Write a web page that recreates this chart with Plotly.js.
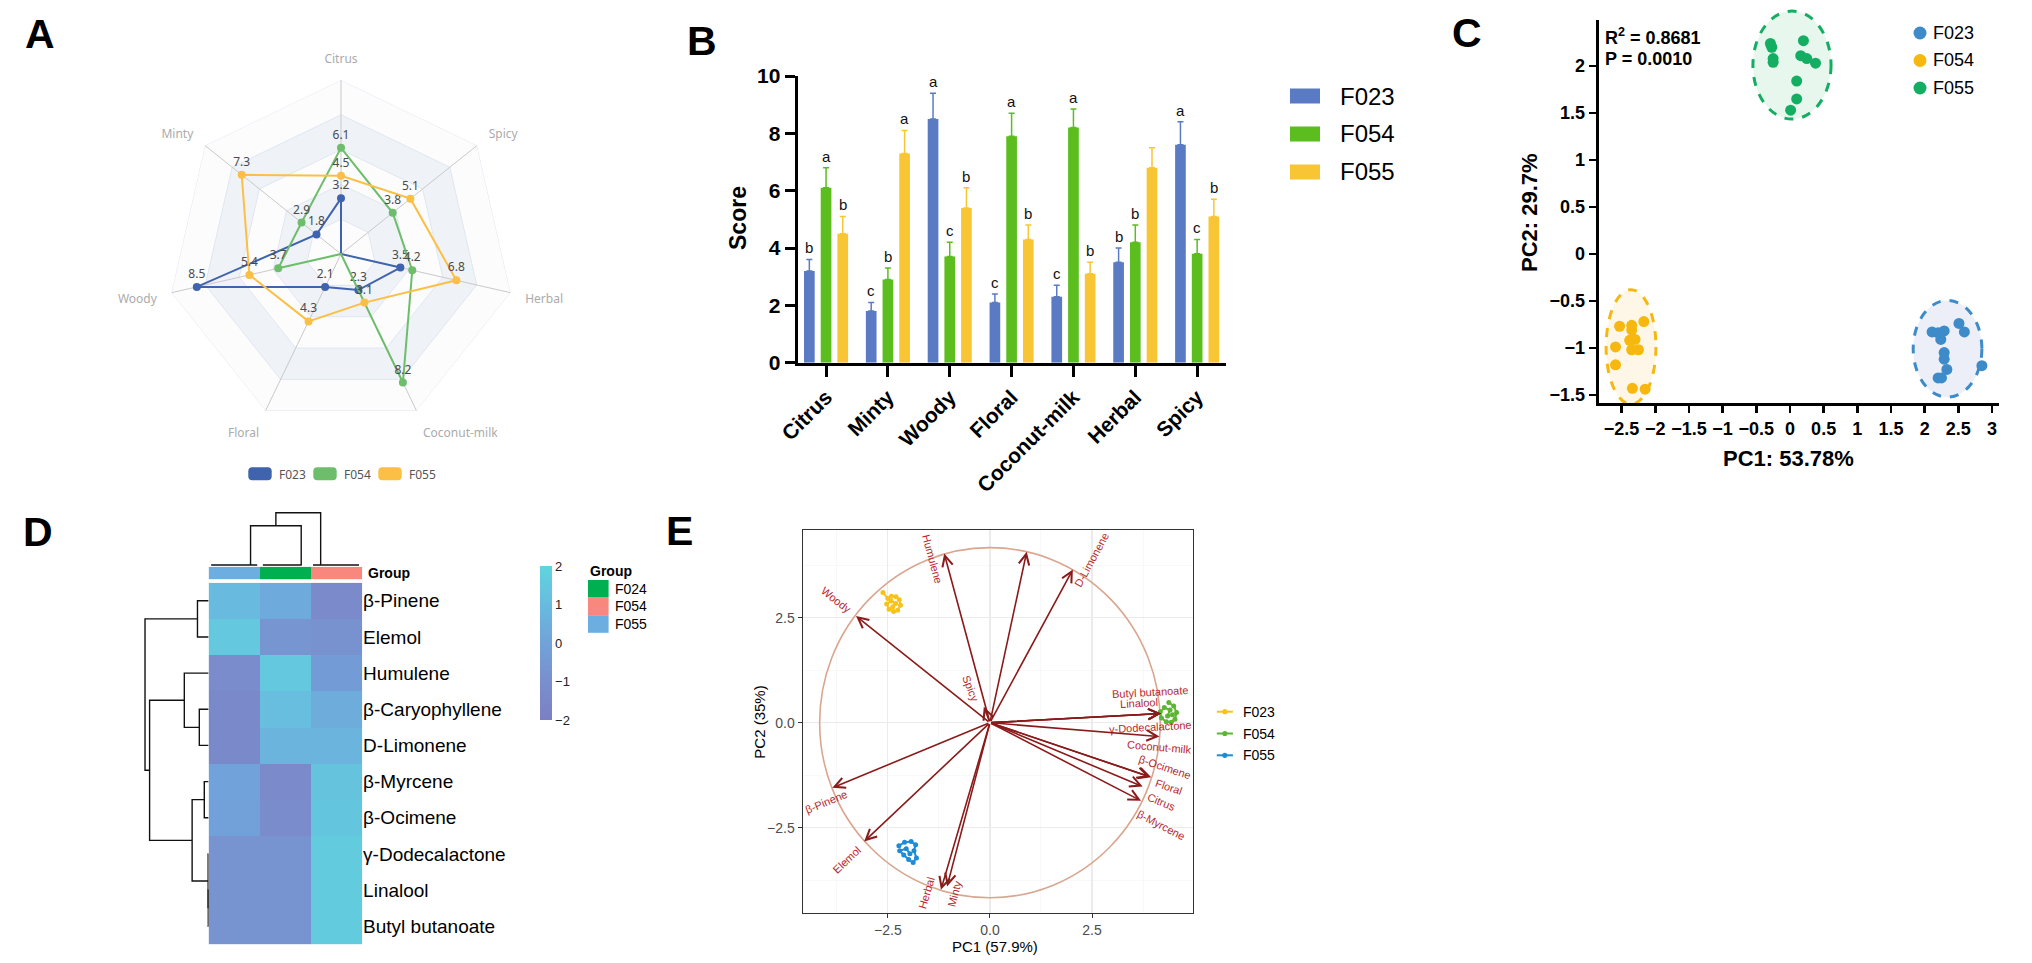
<!DOCTYPE html>
<html>
<head>
<meta charset="utf-8">
<script src="https://cdn.plot.ly/plotly-3.0.1.min.js"></script>
<style>
html,body{margin:0;padding:0;background:#ffffff;overflow:hidden;}
#chart{width:2032px;height:963px;}
</style>
</head>
<body>
<div id="chart"></div>
<script>
/* ================= DATA ================= */
const attributes = ['Citrus', 'Minty', 'Woody', 'Floral', 'Coconut-milk', 'Herbal', 'Spicy'];
const samples = ['F023', 'F054', 'F055'];

// Panel A – radar
const radarF023 = [3.2, 1.8, 8.5, 2.1, 2.3, 3.5, 0];
const radarF054 = [6.1, 2.9, 3.7, 0, 8.2, 4.2, 3.8];
const radarF055 = [4.5, 7.3, 5.4, 4.3, 3.1, 6.8, 5.1];
const radarRings = [2, 4, 6, 8, 10];

// Panel B – bars
const scoreF023 = [3.2, 1.8, 8.5, 2.1, 2.3, 3.5, 7.6];
const scoreF054 = [6.1, 2.9, 3.7, 7.9, 8.2, 4.2, 3.8];
const scoreF055 = [4.5, 7.3, 5.4, 4.3, 3.1, 6.8, 5.1];
const sdF023 = [0.4, 0.3, 0.9, 0.3, 0.4, 0.5, 0.8];
const sdF054 = [0.7, 0.4, 0.5, 0.8, 0.65, 0.6, 0.5];
const sdF055 = [0.6, 0.8, 0.7, 0.5, 0.4, 0.7, 0.6];
const letterF023 = ['b', 'c', 'a', 'c', 'c', 'b', 'a'];
const letterF054 = ['a', 'b', 'c', 'a', 'a', 'b', 'c'];
const letterF055 = ['b', 'a', 'b', 'b', 'b', '', 'b'];
const scoreTicks = [0, 2, 4, 6, 8, 10];

// Panel C – PCA scores
const pcF023_x = [2.11, 2.20, 2.29, 2.24, 2.51, 2.59, 2.29, 2.29, 2.33, 2.20, 2.25, 2.85];
const pcF023_y = [-0.83, -0.84, -0.82, -0.91, -0.74, -0.83, -1.05, -1.12, -1.23, -1.32, -1.32, -1.19];
const pcF054_x = [-2.53, -2.35, -2.35, -2.17, -2.59, -2.38, -2.30, -2.35, -2.25, -2.59, -2.34, -2.15];
const pcF054_y = [-0.77, -0.76, -0.81, -0.72, -0.99, -0.92, -0.91, -1.02, -1.02, -1.18, -1.43, -1.44];
const pcF055_x = [-0.29, -0.27, -0.25, -0.25, 0.20, 0.16, 0.25, 0.38, 0.10, 0.10, 0.01];
const pcF055_y = [2.24, 2.20, 2.08, 2.04, 2.27, 2.11, 2.08, 2.03, 1.84, 1.65, 1.53];
const ellipseCx = [2.34, -2.36, 0.03];
const ellipseCy = [-1.01, -0.99, 2.01];
const ellipseRx = [0.51, 0.37, 0.58];
const ellipseRy = [0.515, 0.61, 0.575];
const pcaStats = ['R<sup>2</sup> = 0.8681', 'P = 0.0010'];

// Panel D – heatmap
const compounds = ['β-Pinene', 'Elemol', 'Humulene', 'β-Caryophyllene', 'D-Limonene', 'β-Myrcene', 'β-Ocimene', 'γ-Dodecalactone', 'Linalool', 'Butyl butanoate'];
const heatGroups = ['F055', 'F024', 'F054'];
const heatZ = [
  [1.0, 0.3, -1.3],
  [1.5, -0.7, -0.9],
  [-1.2, 1.5, -0.3],
  [-1.4, 1.1, 0.4],
  [-1.4, 0.7, 0.7],
  [0.0, -1.3, 1.3],
  [-0.1, -1.2, 1.4],
  [-0.8, -0.8, 1.6],
  [-0.8, -0.8, 1.6],
  [-0.8, -0.8, 1.6]
];
const heatTicks = [-2, -1, 0, 1, 2];
const legendGroups = ['F024', 'F054', 'F055'];
// row dendrogram merges [childA, childB, height]; leaves 0..9, new clusters 10..
const rowMerges = [[8, 9, 0.05], [7, 10, 0.07], [5, 6, 0.68], [3, 4, 1.46], [0, 1, 1.75], [12, 11, 2.59], [2, 13, 3.82], [16, 15, 9.28], [14, 17, 10]];
// column dendrogram: group sub-tree nodes, spans, merges
const colNode = [0.32, 1.31, 1.69];
const colSpanL = [-0.45, 0.56, 1.54];
const colSpanR = [0.45, 1.32, 2.44];
const colMerges = [[0, 1, 7.5], [3, 2, 10]];

// Panel E – biplot
const bpF023_x = [-2.62, -2.50, -2.41, -2.30, -2.22, -2.19, -2.26, -2.36, -2.47, -2.53, -2.42, -2.31, -2.38];
const bpF023_y = [3.10, 2.96, 3.01, 3.00, 2.93, 2.80, 2.68, 2.65, 2.70, 2.83, 2.90, 2.84, 2.76];
const bpF054_x = [4.38, 4.50, 4.57, 4.53, 4.44, 4.32, 4.20, 4.17, 4.27, 4.41, 4.35, 4.47];
const bpF054_y = [0.48, 0.40, 0.24, 0.08, 0.01, 0.02, 0.11, 0.26, 0.36, 0.30, 0.16, 0.19];
const bpF055_x = [-2.23, -2.09, -1.93, -1.82, -1.86, -1.80, -1.88, -1.99, -2.11, -2.21, -2.05, -1.96];
const bpF055_y = [-2.93, -2.85, -2.83, -2.91, -3.05, -3.22, -3.33, -3.26, -3.15, -3.05, -3.00, -3.12];
const loadNames = ['Humulene', 'β-Caryophyllene', 'D-Limonene', 'Woody', 'Spicy', 'β-Pinene', 'Elemol', 'Herbal', 'Minty', 'Butyl butanoate', 'Linalool', 'γ-Dodecalactone', 'Coconut-milk', 'β-Ocimene', 'Floral', 'Citrus', 'β-Myrcene'];
const loadPC1 = [-1.12, 0.90, 2.03, -3.28, -0.15, -3.86, -3.08, -1.20, -1.05, 4.19, 4.19, 4.19, 4.15, 3.95, 3.92, 3.74, 3.70];
const loadPC2 = [4.03, 4.07, 3.65, 2.54, 0.38, -1.55, -2.83, -3.98, -3.90, 0.22, 0.22, 0.22, -0.33, -1.30, -1.29, -1.52, -1.86];
const corrCircleR = 4.17;

/* ================= STYLE / GEOMETRY ================= */
const W = 2032, H = 963;
const px = x => x / W;
const py = y => 1 - y / H;
const SANS = 'Liberation Sans, Arial, sans-serif';
const ECH = 'Noto Sans, sans-serif';

const radarColors = ['#3f63ad', '#6dbd6b', '#fcbf45'];
const barColors = ['#5a7bc4', '#5bbd1e', '#f8c635'];
const pcaColors = ['#3d8bc9', '#f6b80f', '#14ae63'];
const ellFill = ['rgba(214,220,240,0.45)', 'rgba(253,236,196,0.4)', 'rgba(196,234,212,0.4)'];
const heatGroupColors = {F055: '#6caee0', F024: '#00b050', F054: '#f8877d'};
const bpColors = ['#f7c31b', '#5db534', '#1d8bd6'];

const traces = [];
const shapes = [];
const annotations = [];

/* ---------- A: radar ---------- */
const closeArr = a => a.concat([a[0]]);
const thetaC = closeArr(attributes);
[...radarRings].reverse().forEach((r, i) => {
  traces.push({type: 'scatterpolar', subplot: 'polar', r: closeArr(attributes.map(() => r)), theta: thetaC,
    mode: 'lines', fill: 'toself', fillcolor: i % 2 === 0 ? '#fcfcfd' : '#eff2f7',
    line: {color: 'rgba(0,0,0,0)', width: 0}, hoverinfo: 'skip', showlegend: false});
});
radarRings.forEach(r => {
  traces.push({type: 'scatterpolar', subplot: 'polar', r: closeArr(attributes.map(() => r)), theta: thetaC,
    mode: 'lines', line: {color: '#e0e6f1', width: 1}, hoverinfo: 'skip', showlegend: false});
});
attributes.forEach(a => {
  traces.push({type: 'scatterpolar', subplot: 'polar', r: [0, radarRings[radarRings.length - 1]], theta: [a, a],
    mode: 'lines', line: {color: '#c9c9c9', width: 1}, hoverinfo: 'skip', showlegend: false});
});
[radarF023, radarF054, radarF055].forEach((vals, i) => {
  traces.push({type: 'scatterpolar', subplot: 'polar', r: closeArr(vals), theta: thetaC,
    mode: 'lines', line: {color: radarColors[i], width: 2}, hoverinfo: 'skip', showlegend: false});
  traces.push({type: 'scatterpolar', subplot: 'polar', r: vals, theta: attributes,
    mode: 'markers+text', text: vals.map(v => String(v)),
    textposition: 'top center', textfont: {family: ECH, size: 12, color: '#4a4a4a'},
    marker: {color: radarColors[i], size: 8},
    cliponaxis: false, name: samples[i], showlegend: false, hoverinfo: 'skip'});
});
// radar legend
function rrPath(x0, y0, x1, y1, r) {
  const P = (x, y) => px(x) + ',' + py(y);
  return 'M' + P(x0 + r, y0) + ' L' + P(x1 - r, y0) + ' Q' + P(x1, y0) + ' ' + P(x1, y0 + r) +
    ' L' + P(x1, y1 - r) + ' Q' + P(x1, y1) + ' ' + P(x1 - r, y1) + ' L' + P(x0 + r, y1) +
    ' Q' + P(x0, y1) + ' ' + P(x0, y1 - r) + ' L' + P(x0, y0 + r) + ' Q' + P(x0, y0) + ' ' + P(x0 + r, y0) + ' Z';
}
samples.forEach((s, i) => {
  const x0 = 248.3 + i * 65;
  shapes.push({type: 'path', xref: 'paper', yref: 'paper', path: rrPath(x0, 467.3, x0 + 23.4, 480.3, 4),
    fillcolor: radarColors[i], line: {width: 0}});
  annotations.push({xref: 'paper', yref: 'paper', x: px(x0 + 28.5), y: py(474), xanchor: 'left', yanchor: 'middle',
    text: s, showarrow: false, font: {family: ECH, size: 12, color: '#555'}});
});

/* ---------- B: bars ---------- */
const bargap = 0.19, bargroupgap = 0.36;
const scores = [scoreF023, scoreF054, scoreF055];
const sds = [sdF023, sdF054, sdF055];
const letters = [letterF023, letterF054, letterF055];
samples.forEach((s, i) => {
  traces.push({type: 'bar', x: attributes, y: scores[i], name: s, xaxis: 'x', yaxis: 'y',
    marker: {color: barColors[i], line: {width: 0}},
    error_y: {type: 'data', symmetric: false, array: sds[i], arrayminus: sds[i].map(() => 0),
      color: barColors[i], thickness: 1.5, width: 3},
    showlegend: false, hoverinfo: 'skip'});
});
const slot = (1 - bargap) / samples.length;
samples.forEach((s, i) => {
  attributes.forEach((a, j) => {
    if (!letters[i][j]) return;
    annotations.push({xref: 'x', yref: 'y', x: j + (i - 1) * slot, y: scores[i][j] + sds[i][j],
      text: letters[i][j], showarrow: false, yanchor: 'bottom', yshift: 1,
      font: {family: SANS, size: 15, color: '#111'}});
  });
});
annotations.push({xref: 'paper', yref: 'paper', x: px(738), y: py(218), text: '<b>Score</b>', textangle: -90,
  showarrow: false, xanchor: 'center', yanchor: 'middle', font: {family: SANS, size: 23, color: '#000'}});
samples.forEach((s, i) => {
  const yc = 96 + i * 38;
  shapes.push({type: 'rect', xref: 'paper', yref: 'paper', x0: px(1290), x1: px(1320), y0: py(yc + 7.5), y1: py(yc - 7.5),
    fillcolor: barColors[i], line: {width: 0}});
  annotations.push({xref: 'paper', yref: 'paper', x: px(1338), y: py(yc), xanchor: 'left', yanchor: 'middle',
    text: s, showarrow: false, font: {family: SANS, size: 24, color: '#000'}});
});

/* ---------- C: PCA scores ---------- */
const cXr = [-2.84, 3.11], cYr = [-1.59, 2.49];
const fx = v => (v - cXr[0]) / (cXr[1] - cXr[0]);
const fy = v => (v - cYr[0]) / (cYr[1] - cYr[0]);
samples.forEach((s, i) => {
  shapes.push({type: 'circle', xref: 'x2 domain', yref: 'y2 domain',
    x0: fx(ellipseCx[i] - ellipseRx[i]), x1: fx(ellipseCx[i] + ellipseRx[i]),
    y0: fy(ellipseCy[i] - ellipseRy[i]), y1: fy(ellipseCy[i] + ellipseRy[i]),
    fillcolor: ellFill[i], line: {color: pcaColors[i], width: 3, dash: 'dash'}, layer: 'below'});
});
[[pcF023_x, pcF023_y], [pcF054_x, pcF054_y], [pcF055_x, pcF055_y]].forEach((d, i) => {
  traces.push({type: 'scatter', mode: 'markers', x: d[0], y: d[1], xaxis: 'x2', yaxis: 'y2', name: samples[i],
    marker: {color: pcaColors[i], size: 11}, cliponaxis: false, showlegend: false, hoverinfo: 'skip'});
});
pcaStats.forEach((t, i) => {
  annotations.push({xref: 'paper', yref: 'paper', x: px(1603), y: py(36 + i * 23), xanchor: 'left', yanchor: 'middle',
    text: '<b>' + t + '</b>', showarrow: false, font: {family: SANS, size: 18, color: '#000'}});
});
samples.forEach((s, i) => {
  const yc = 33 + i * 27.5, r = 6.5;
  shapes.push({type: 'circle', xref: 'paper', yref: 'paper', x0: px(1920 - r), x1: px(1920 + r), y0: py(yc + r), y1: py(yc - r),
    fillcolor: pcaColors[i], line: {width: 0}});
  annotations.push({xref: 'paper', yref: 'paper', x: px(1931), y: py(yc), xanchor: 'left', yanchor: 'middle',
    text: s, showarrow: false, font: {family: SANS, size: 18, color: '#000'}});
});
annotations.push({xref: 'paper', yref: 'paper', x: px(1529), y: py(213), text: '<b>PC2: 29.7%</b>', textangle: -90,
  showarrow: false, xanchor: 'center', yanchor: 'middle', font: {family: SANS, size: 22, color: '#000'}});
annotations.push({xref: 'paper', yref: 'paper', x: px(1788), y: py(458), text: '<b>PC1: 53.78%</b>',
  showarrow: false, xanchor: 'center', yanchor: 'middle', font: {family: SANS, size: 22, color: '#000'}});

/* ---------- D: heatmap ---------- */
traces.push({type: 'heatmap', z: heatZ, x: heatGroups.map((g, i) => i), y: compounds.map((c, i) => i),
  xaxis: 'x3', yaxis: 'y3', zmin: -2, zmax: 2,
  colorscale: [[0, '#7c7fc3'], [0.25, '#798fce'], [0.5, '#71a2d9'], [0.75, '#68bbdf'], [1, '#5fd5dd']],
  colorbar: {x: px(539.6), xanchor: 'left', y: py(643), yanchor: 'middle', len: 154, lenmode: 'pixels',
    thickness: 11.5, thicknessmode: 'pixels', xpad: 0, ypad: 0, outlinewidth: 0, tickvals: heatTicks,
    ticks: '', tickfont: {family: SANS, size: 13, color: '#222'}},
  hoverinfo: 'skip'});
traces.push({type: 'heatmap', z: [heatGroups.map((g, i) => i)], x: heatGroups.map((g, i) => i), y: [0],
  xaxis: 'x3', yaxis: 'y5', zmin: 0, zmax: 2, showscale: false,
  colorscale: [[0, heatGroupColors[heatGroups[0]]], [0.5, heatGroupColors[heatGroups[1]]], [1, heatGroupColors[heatGroups[2]]]],
  hoverinfo: 'skip'});
// row dendrogram
(function () {
  const pos = compounds.map((c, i) => i);
  const hgt = compounds.map(() => 0);
  const xs = [], ys = [];
  rowMerges.forEach(m => {
    const a = m[0], b = m[1], h = m[2];
    xs.push(hgt[a], h, h, hgt[b], null);
    ys.push(pos[a], pos[a], pos[b], pos[b], null);
    pos.push((pos[a] + pos[b]) / 2);
    hgt.push(h);
  });
  traces.push({type: 'scatter', mode: 'lines', x: xs, y: ys, xaxis: 'x4', yaxis: 'y3',
    line: {color: '#111', width: 1.4}, hoverinfo: 'skip', showlegend: false});
})();
// column dendrogram
(function () {
  const pos = colNode.slice();
  const hgt = colNode.map(() => 0);
  const xs = [], ys = [];
  colNode.forEach((n, i) => { xs.push(colSpanL[i], colSpanR[i], null); ys.push(0, 0, null); });
  colMerges.forEach(m => {
    const a = m[0], b = m[1], h = m[2];
    xs.push(pos[a], pos[a], pos[b], pos[b], null);
    ys.push(hgt[a], h, h, hgt[b], null);
    pos.push((pos[a] + pos[b]) / 2);
    hgt.push(h);
  });
  traces.push({type: 'scatter', mode: 'lines', x: xs, y: ys, xaxis: 'x3', yaxis: 'y4',
    line: {color: '#111', width: 1.4}, hoverinfo: 'skip', showlegend: false});
})();
annotations.push({xref: 'paper', yref: 'paper', x: px(366), y: py(573.3), xanchor: 'left', yanchor: 'middle',
  text: '<b>Group</b>', showarrow: false, font: {family: SANS, size: 14, color: '#000'}});
annotations.push({xref: 'paper', yref: 'paper', x: px(587.5), y: py(571), xanchor: 'left', yanchor: 'middle',
  text: '<b>Group</b>', showarrow: false, font: {family: SANS, size: 14, color: '#000'}});
legendGroups.forEach((g, i) => {
  const y0 = 580 + i * 17.6;
  shapes.push({type: 'rect', xref: 'paper', yref: 'paper', x0: px(588), x1: px(608.6), y0: py(y0 + 17.6), y1: py(y0),
    fillcolor: heatGroupColors[g], line: {width: 0}});
  annotations.push({xref: 'paper', yref: 'paper', x: px(612.5), y: py(y0 + 8.8), xanchor: 'left', yanchor: 'middle',
    text: g, showarrow: false, font: {family: SANS, size: 14, color: '#000'}});
});

/* ---------- E: biplot ---------- */
const eX = [-4.59, 4.96], eY = [-4.54, 4.59];
const eSx = (1192.5 - 802.5) / (eX[1] - eX[0]);
const eSy = (913.3 - 530) / (eY[1] - eY[0]);
shapes.push({type: 'circle', xref: 'x5', yref: 'y6', x0: -corrCircleR, x1: corrCircleR, y0: -corrCircleR, y1: corrCircleR,
  line: {color: '#d9a690', width: 1.6}, layer: 'between'});
[[bpF023_x, bpF023_y], [bpF054_x, bpF054_y], [bpF055_x, bpF055_y]].forEach((d, i) => {
  traces.push({type: 'scatter', mode: 'lines+markers', x: d[0], y: d[1], xaxis: 'x5', yaxis: 'y6', name: samples[i],
    line: {color: bpColors[i], width: 2}, marker: {color: bpColors[i], size: 5}, showlegend: false, hoverinfo: 'skip'});
});
const labelNudge = {
  'Humulene': [-0.28, -0.12], 'D-Limonene': [0.46, 0.22], 'Woody': [-0.48, 0.38], 'Spicy': [-0.33, 0.44],
  'β-Pinene': [-0.16, -0.33], 'Elemol': [-0.43, -0.44], 'Herbal': [-0.36, -0.07], 'Minty': [0.19, -0.16],
  'Butyl butanoate': [-0.26, 0.52], 'Linalool': [-0.54, 0.26], 'γ-Dodecalactone': [-0.27, -0.32],
  'Coconut-milk': [0.0, -0.24], 'β-Ocimene': [0.33, 0.25], 'Floral': [0.47, -0.25], 'Citrus': [0.47, -0.36],
  'β-Myrcene': [0.49, -0.58]
};
loadNames.forEach((n, i) => {
  annotations.push({xref: 'x5', yref: 'y6', axref: 'x5', ayref: 'y6', x: loadPC1[i], y: loadPC2[i], ax: 0, ay: 0,
    text: '', showarrow: true, arrowhead: 5, arrowsize: 1.3, arrowwidth: 1.6, arrowcolor: '#8b1a1a'});
  const nd = labelNudge[n];
  if (!nd) return;
  let ang = Math.atan2(-loadPC2[i] * eSy, loadPC1[i] * eSx) * 180 / Math.PI;
  if (ang > 90) ang -= 180;
  if (ang < -90) ang += 180;
  annotations.push({xref: 'x5', yref: 'y6', x: loadPC1[i] + nd[0], y: loadPC2[i] + nd[1], text: n, textangle: ang,
    showarrow: false, xanchor: 'center', yanchor: 'middle', font: {family: SANS, size: 11, color: '#b8282e'}});
});
samples.forEach((s, i) => {
  const yc = 711.7 + i * 21.8;
  shapes.push({type: 'line', xref: 'paper', yref: 'paper', x0: px(1216.8), x1: px(1232.9), y0: py(yc), y1: py(yc),
    line: {color: bpColors[i], width: 2}});
  shapes.push({type: 'circle', xref: 'paper', yref: 'paper', x0: px(1222.3), x1: px(1227.4), y0: py(yc + 2.6), y1: py(yc - 2.6),
    fillcolor: bpColors[i], line: {width: 0}});
  annotations.push({xref: 'paper', yref: 'paper', x: px(1241), y: py(yc), xanchor: 'left', yanchor: 'middle',
    text: s, showarrow: false, font: {family: SANS, size: 14, color: '#000'}});
});
annotations.push({xref: 'paper', yref: 'paper', x: px(760), y: py(722.7), text: 'PC2 (35%)', textangle: -90,
  showarrow: false, xanchor: 'center', yanchor: 'middle', font: {family: SANS, size: 15, color: '#000'}});
annotations.push({xref: 'paper', yref: 'paper', x: px(995), y: py(946), text: 'PC1 (57.9%)',
  showarrow: false, xanchor: 'center', yanchor: 'middle', font: {family: SANS, size: 15, color: '#000'}});

/* ---------- panel letters ---------- */
[['A', 40, 34], ['B', 702, 41], ['C', 1467, 33], ['D', 38, 532], ['E', 679, 531]].forEach(p => {
  annotations.push({xref: 'paper', yref: 'paper', x: px(p[1]), y: py(p[2]), text: '<b>' + p[0] + '</b>',
    showarrow: false, xanchor: 'center', yanchor: 'middle', font: {family: SANS, size: 41, color: '#000'}});
});

/* ================= LAYOUT ================= */
const boldTick = (s) => ({family: SANS, size: s, color: '#000', weight: 'bold'});
const layout = {
  width: W, height: H, margin: {l: 0, r: 0, t: 0, b: 0},
  paper_bgcolor: '#ffffff', plot_bgcolor: 'rgba(0,0,0,0)',
  showlegend: false, barmode: 'group', bargap: bargap, bargroupgap: bargroupgap,
  font: {family: SANS, color: '#000'},
  polar: {
    domain: {x: [px(167), px(515)], y: [py(428), py(80)]},
    bgcolor: 'rgba(0,0,0,0)', gridshape: 'linear',
    radialaxis: {range: [0, 10], showgrid: false, showline: false, showticklabels: false, ticks: ''},
    angularaxis: {type: 'category', categoryarray: attributes, direction: 'counterclockwise', rotation: 90,
      showgrid: false, showline: false, ticks: 'outside', ticklen: 12, tickcolor: 'rgba(0,0,0,0)',
      tickfont: {family: ECH, size: 12, color: '#ababab'}}
  },
  xaxis: {domain: [px(797.6), px(1225.6)], anchor: 'y', type: 'category', categoryarray: attributes,
    range: [-0.46, 6.46], ticks: 'outside', ticklen: 11, tickwidth: 3, tickcolor: '#000', tickangle: -45,
    tickfont: boldTick(21), showline: true, linewidth: 3, linecolor: '#000', showgrid: false, zeroline: false},
  yaxis: {domain: [py(362.7), py(76)], anchor: 'x', range: [0, 10], tickvals: scoreTicks,
    ticks: 'outside', ticklen: 10, tickwidth: 3, tickcolor: '#000', tickfont: boldTick(21),
    showline: true, linewidth: 3, linecolor: '#000', showgrid: false, zeroline: false},
  xaxis2: {domain: [px(1598.7), px(1999.4)], anchor: 'y2', range: cXr, dtick: 0.5, tick0: 0,
    ticks: 'outside', ticklen: 7, tickwidth: 2.5, tickcolor: '#000', tickfont: boldTick(18),
    showline: true, linewidth: 3, linecolor: '#000', showgrid: false, zeroline: false},
  yaxis2: {domain: [py(403.3), py(20)], anchor: 'x2', range: cYr, dtick: 0.5, tick0: 0,
    ticks: 'outside', ticklen: 7, tickwidth: 2.5, tickcolor: '#000', tickfont: boldTick(18),
    showline: true, linewidth: 3, linecolor: '#000', showgrid: false, zeroline: false},
  xaxis3: {domain: [px(208.6), px(362.1)], anchor: 'y3', range: [-0.5, 2.5], visible: false},
  yaxis3: {domain: [py(944.3), py(582.7)], anchor: 'x3', range: [9.5, -0.5], side: 'right',
    tickvals: compounds.map((c, i) => i), ticktext: compounds, ticks: '', showline: false, showgrid: false,
    zeroline: false, tickfont: {family: SANS, size: 19, color: '#000'}},
  xaxis4: {domain: [px(140), px(208.6)], anchor: 'y3', range: [10.79, 0], visible: false},
  yaxis4: {domain: [py(567), py(508)], anchor: 'x3', range: [-0.38, 10.9], visible: false},
  yaxis5: {domain: [py(579.3), py(566.7)], anchor: 'x3', range: [-0.5, 0.5], visible: false},
  xaxis5: {domain: [px(802.5), px(1192.5)], anchor: 'y6', range: eX, dtick: 2.5, tick0: 0, tickformat: '.1f',
    ticks: 'outside', ticklen: 4, tickcolor: '#333', tickwidth: 1, tickfont: {family: SANS, size: 14, color: '#4d4d4d'},
    showgrid: true, gridcolor: '#ebebeb', gridwidth: 1.2,
    minor: {dtick: 1.25, tick0: 0, showgrid: true, gridcolor: '#f5f5f5', gridwidth: 0.7},
    showline: true, mirror: true, linecolor: '#333', linewidth: 1, zeroline: false},
  yaxis6: {domain: [py(913.3), py(530)], anchor: 'x5', range: eY, dtick: 2.5, tick0: 0, tickformat: '.1f',
    ticks: 'outside', ticklen: 4, tickcolor: '#333', tickwidth: 1, tickfont: {family: SANS, size: 14, color: '#4d4d4d'},
    showgrid: true, gridcolor: '#ebebeb', gridwidth: 1.2,
    minor: {dtick: 1.25, tick0: 0, showgrid: true, gridcolor: '#f5f5f5', gridwidth: 0.7},
    showline: true, mirror: true, linecolor: '#333', linewidth: 1, zeroline: false},
  shapes: shapes,
  annotations: annotations
};

Plotly.newPlot('chart', traces, layout, {staticPlot: true, displayModeBar: false});
</script>
</body>
</html>
